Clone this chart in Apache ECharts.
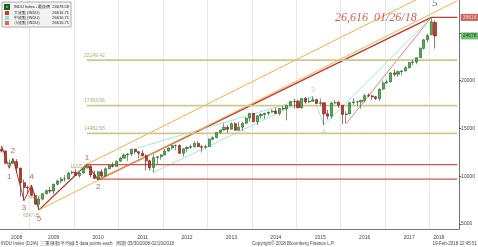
<!DOCTYPE html>
<html><head><meta charset="utf-8">
<script src="https://cdn.jsdelivr.net/npm/echarts@6/dist/echarts.min.js"></script>
<style>html,body{margin:0;padding:0;background:#fff}#c{width:478px;height:247px}</style>
</head><body><div id="c"></div>
<script>
// monthly categories May 2008 .. Feb 2018 plus right padding
const months = [];
for (let y = 2008; y <= 2018; y++) for (let m = 1; m <= 12; m++) {
  if (y === 2008 && m < 5) continue;
  if (y === 2018 && m > 2) continue;
  months.push(y + '-' + String(m).padStart(2, '0'));
}
const padSlots = ['p1','p2','p3','p4','p5','p6'];
const categories = months.concat(padSlots);

const opens = [12820,12638,11350,11378,11544,10851,9325,8829,
 8772,8001,7063,7609,8168,8500,8447,9172,9496,9712,9713,10345,
 10428,10067,10325,10857,11009,10137,9774,10466,10015,10788,11118,11006,
 11578,11892,12226,12320,12811,12570,12414,12143,11614,10913,11955,12046,
 12218,12633,12952,13212,13214,12393,12880,13009,13091,13437,13096,13026,
 13104,13861,14054,14579,14840,15116,14910,15500,14810,15130,15546,16086,
 16577,15699,16322,16458,16581,16717,16827,16563,17098,17043,17391,17828,
 17823,17165,18133,17776,17841,18011,17620,17690,16528,16285,17664,17720,
 17425,16466,16517,17685,17774,17787,17930,18432,18401,18308,18142,19124,
 19763,19864,20812,20663,20941,21009,21350,21891,21948,22405,23377,24272,
 24809,26083];
const closes = [12638,11350,11378,11544,10851,9325,8829,8776,
 8001,7063,7609,8168,8500,8447,9172,9496,9712,9713,10345,10428,
 10067,10325,10857,11009,10137,9774,10466,10015,10788,11118,11006,11578,
 11892,12226,12320,12811,12570,12414,12143,11614,10913,11955,12046,12218,
 12633,12952,13212,13214,12393,12880,13009,13091,13437,13096,13026,13104,
 13861,14054,14579,14840,15116,14910,15500,14810,15130,15546,16086,16577,
 15699,16322,16458,16581,16717,16827,16563,17098,17043,17391,17828,17823,
 17165,18133,17776,17841,18011,17620,17690,16528,16285,17664,17720,17425,
 16466,16517,17685,17774,17787,17930,18432,18401,18308,18142,19124,19763,
 19864,20812,20663,20941,21009,21350,21891,21948,22405,23377,24272,24719,
 26149,24679];
const lows = [12480,11288,10827,11284,10365,7882,7449,8149,
 7909,7062,6470,7490,8090,8220,8087,9050,9250,9430,9680,10220,
 10030,9840,10300,10850,9870,9740,9614,9935,10000,10710,10930,10980,
 11530,11890,11555,12090,12340,11862,12090,10600,10590,10400,11230,11730,
 12218,12590,12760,12710,12350,12040,12490,12880,12990,13030,12470,12880,
 13100,13760,13940,14450,14760,14550,14900,14760,14770,14720,15450,15700,
 15690,15340,16010,16020,16330,16660,16560,16330,16900,15855,17370,17070,
 17140,17040,17580,17650,17800,17590,17400,15370,15940,16010,17490,17140,
 15450,15500,16500,17480,17330,17060,17710,18290,17990,17960,17880,19000,
 19680,19830,20410,20380,20550,20990,21280,21600,21710,22410,23240,24000,
 24740,23360];
const highs = [13136,12657,11750,11867,11790,10882,9654,9026,
 9088,8280,7925,8230,8590,8878,9200,9630,9918,10120,10450,10580,
 10730,10400,10908,11258,11210,10600,10580,10720,10950,11250,11450,11640,
 12020,12390,12420,12880,12876,12580,12750,12290,11720,12290,12110,12330,
 12840,13030,13290,13340,13340,12900,13140,13330,13650,13660,13290,13310,
 13970,14150,14590,14890,15540,15340,15660,15660,15710,15710,16170,16590,
 16590,16400,16600,16630,16740,16980,17150,17150,17350,17400,17890,18100,
 18000,18170,18290,18180,18350,18120,18140,17720,16930,17800,17980,17900,
 17410,16800,17790,18170,17900,18010,18620,18670,18500,18400,19150,19990,
 20130,20890,21170,21070,21110,21530,21930,22180,22420,23485,24330,24880,
 26617,26307];

// y axis ticks (25000 label is hidden behind the last-price box)
const yTicks = [5000, 10000, 15000, 20000, 25000];
const yLabels = [5000, 10000, 15000, 20000];
// horizontal levels
const olLevels = [22149.42, 17383.56, 14482.58];
const redLevels = [11205.03, 9686.48];
const peakValue = 26616.71;
const lastValue = 24678.58;

// wave pivots (category, value)
const bigWave1 = [['2009-03', 6470], ['2010-04', 11258], ['2010-07', 9614]];
const bigWave3 = [['2010-07', 9614], ['2018-01', 26616]];
const declineWave = [['2008-05', 13136], ['2008-07', 10827], ['2008-08', 11867], ['2008-11', 7449], ['2009-01', 9088], ['2009-03', 6470]];
const midWave = [['2011-05', 12876], ['2011-10', 10400], ['2015-05', 18350], ['2015-08', 15370], ['2018-01', 26616]];
const midChannel = [['2011-05', 12876], ['2015-05', 18350]];
const smallWave = [['2016-02', 15500], ['2018-01', 26616]];
const orangeLow = [['2009-03', 6470], ['p6', 28350]];
const orangeUp = [['2010-04', 11258], ['p6', 30620]];

// text labels [category, value, text]
const redWaveLabels = [['2008-07', 9900, '1'], ['2008-08', 12650, '2'], ['2008-11', 6650, '3'], ['2009-01', 9900, '4'], ['2009-03', 5500, '5'], ['2010-04', 11900, '1'], ['2010-07', 8900, '2']];
const tealWaveLabels = [['2015-05', 19050, '3'], ['2015-08', 14600, '4']];
const priceLabels = [['2009-02', 7700, '7449.38'], ['2009-01', 5850, '6547.05'], ['2010-02', 11000, '11205.03']];

const upC = '#4cb34f', upB = '#1d5e22', dnC = '#d0342c', dnB = '#6d130f';
const candleData = opens.map((o, i) => [o, closes[i], lows[i], highs[i]]);

function lineSeries(name, pts, color, width) {
  return { type: 'line', name: name, data: pts, symbol: 'none', silent: true,
    lineStyle: { color: color, width: width }, itemStyle: { color: color }, clip: true, z: 3 };
}
function textSeries(rows, style) {
  return { type: 'scatter', data: rows, symbolSize: 1, silent: true, z: 8,
    itemStyle: { color: 'rgba(0,0,0,0)' },
    label: Object.assign({ show: true, position: 'inside', formatter: p => p.data[2] }, style) };
}

const chart = echarts.init(document.getElementById('c'));
const legendRich = { n: { width: 38, fontSize: 4, color: '#222' }, v: { width: 17, align: 'right', fontSize: 4, color: '#222' } };
const legendVals = {
  'INDU Index - 最後價': '24678.58', '大波動 (INDU)': '26616.71', '中波動 (INDU)': '26616.71', '小波動 (INDU)': '26616.71'
};

const series = [
  { type: 'candlestick', name: 'INDU Index - 最後價', data: candleData, barWidth: 2.6, z: 5,
    itemStyle: { color: upC, color0: dnC, borderColor: upB, borderColor0: dnB, borderWidth: 0.6 } },
  lineSeries('大波動 (INDU)', bigWave1, '#c43a2f', 1.2),
  lineSeries('大波動 (INDU)', bigWave3, '#c43a2f', 1.5),
  lineSeries('大波動 (INDU)', declineWave, '#c43a2f', 1),
  lineSeries('中波動 (INDU)', midWave, '#8fe0cc', 0.8),
  lineSeries('中波動 (INDU)', midChannel, '#8fe0cc', 0.8),
  lineSeries('小波動 (INDU)', smallWave, '#e0665c', 0.8),
  lineSeries('trendA', orangeLow, '#f3b24a', 1),
  lineSeries('trendB', orangeUp, '#f3b24a', 1),
];
olLevels.forEach(v => series.push(lineSeries('lvl', [['2010-04', v], ['p6', v]], '#cfc88c', 1.6)));
redLevels.forEach((v, k) => series.push(lineSeries('rl', [[k === 0 ? '2010-04' : '2010-07', v], ['p6', v]], '#d9534f', 1.3)));
series.push(lineSeries('peakline', [['2018-01', peakValue], ['p6', peakValue]], '#c0392b', 1.3));
series.push(textSeries(olLevels.map(v => ['2010-06', v + 500, v.toFixed(2)]), { fontSize: 5, color: '#9c9650' }));
series.push(textSeries(redWaveLabels, { fontSize: 8, color: '#c43a2f' }));
series.push(textSeries(tealWaveLabels, { fontSize: 7, color: '#8fd6c6' }));
series.push(textSeries(priceLabels, { fontSize: 4.5, color: '#9c9650' }));
series.push(textSeries([['2016-10', peakValue, '26,616  01/26/18']], { fontSize: 12, fontStyle: 'italic', fontFamily: 'Liberation Serif', color: '#c0392b' }));
series.push(textSeries([['2018-02', 28150, '5']], { fontSize: 11, fontStyle: 'italic', fontFamily: 'Liberation Serif', color: '#2a4fa0' }));
series.push(textSeries([['p6', peakValue, peakValue.toFixed(2)]], { position: 'right', distance: 3, fontSize: 5, color: '#fff', backgroundColor: '#c0392b', padding: [1, 2] }));
series.push(textSeries([['p6', lastValue, lastValue.toFixed(2)]], { position: 'right', distance: 3, fontSize: 5, color: '#102010', backgroundColor: '#4cb34f', padding: [1, 2] }));

chart.setOption({
  animation: false,
  grid: { left: 0, right: 17, top: 0, bottom: 18 },
  legend: {
    data: ['INDU Index - 最後價', '大波動 (INDU)', '中波動 (INDU)', '小波動 (INDU)'],
    orient: 'vertical', left: 2, top: 2, itemWidth: 4, itemHeight: 4, itemGap: 1,
    padding: [2, 2], backgroundColor: '#f3f3f3', borderColor: '#9a9a9a', borderWidth: 0.8,
    icon: 'rect', textStyle: { fontSize: 4, rich: legendRich },
    formatter: n => '{n|' + n + '}{v|' + legendVals[n] + '}'
  },
  xAxis: [{
    type: 'category', data: categories, boundaryGap: true,
    axisLine: { lineStyle: { color: '#555', width: 0.8 } },
    axisTick: { length: 2, lineStyle: { color: '#555' }, interval: (i, v) => /-(01|04|07|10)$/.test(v) },
    splitLine: { show: true, interval: (i, v) => /-01$/.test(v), lineStyle: { color: '#e2e2e2', width: 0.8 } },
    axisLabel: { interval: (i, v) => v === '2008-09' || /-07$/.test(v) || v === 'p1', fontSize: 5, color: '#444', margin: 6,
      formatter: v => v === 'p1' ? '2018' : v.slice(0, 4) }
  }, {
    type: 'category', data: categories, boundaryGap: true, position: 'bottom',
    axisLine: { show: false }, axisLabel: { show: false },
    axisTick: { length: 9, lineStyle: { color: '#888' }, interval: (i, v) => /-01$/.test(v) }
  }],
  yAxis: {
    type: 'value', position: 'right', min: 4479, max: 28437, scale: true,
    axisLine: { show: true, lineStyle: { color: '#555', width: 0.8 } },
    axisTick: { show: true, length: 2, customValues: yTicks },
    axisLabel: { fontSize: 5, color: '#444', margin: 2, customValues: yLabels, formatter: v => String(v) },
    splitLine: { show: false }
  },
  graphic: [
    { type: 'text', left: 1, bottom: 1, style: { text: 'INDU Index (DJIA) 三重移動平均線 5 data points each   周期 05/30/2008-02/19/2018', fontSize: 4.5, fill: '#444' } },
    { type: 'text', left: 252, bottom: 1, style: { text: 'Copyright© 2018 Bloomberg Finance L.P.', fontSize: 4.5, fill: '#444' } },
    { type: 'text', right: 1, bottom: 1, style: { text: '19-Feb-2018 22:45:51', fontSize: 4.5, fill: '#444' } }
  ],
  series: series
});
</script></body></html>
